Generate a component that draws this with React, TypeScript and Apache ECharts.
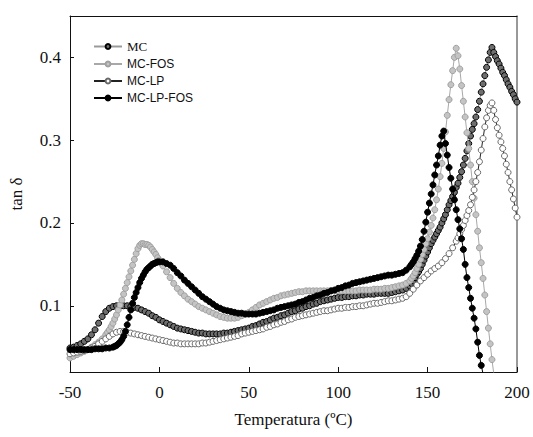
import React, { useEffect, useRef } from "react";
import * as echarts from "echarts";

// Temperature (°C) / tan δ pairs
const mcData: [number, number][] = [
  [-50,0.049],[-48,0.050],[-46,0.052],[-44,0.054],[-42,0.057],[-40,0.060],[-38,0.065],[-36,0.071],[-34,0.079],[-32,0.087],
  [-30,0.093],[-28,0.097],[-26,0.099],[-24,0.100],[-22,0.100],[-20,0.100],[-18,0.100],[-16,0.099],[-14,0.098],[-12,0.097],
  [-10,0.095],[-8,0.093],[-6,0.091],[-4,0.088],[-2,0.086],[0,0.083],[2,0.081],[4,0.079],[6,0.077],[8,0.075],
  [10,0.073],[12,0.072],[14,0.071],[16,0.070],[18,0.069],[20,0.068],[22,0.067],[24,0.067],[26,0.066],[28,0.066],
  [30,0.066],[32,0.066],[34,0.066],[36,0.067],[38,0.067],[40,0.068],[42,0.069],[44,0.070],[46,0.071],[48,0.072],
  [50,0.073],[52,0.075],[54,0.076],[56,0.078],[58,0.080],[60,0.081],[62,0.083],[64,0.085],[66,0.086],[68,0.088],
  [70,0.089],[72,0.091],[74,0.093],[76,0.094],[78,0.096],[80,0.097],[82,0.099],[84,0.100],[86,0.102],[88,0.103],
  [90,0.105],[92,0.106],[94,0.107],[96,0.108],[98,0.109],[100,0.110],[102,0.110],[104,0.111],[106,0.111],[108,0.112],
  [110,0.112],[112,0.113],[114,0.113],[116,0.114],[118,0.114],[120,0.114],[122,0.115],[124,0.115],[126,0.115],[128,0.115],
  [130,0.116],[132,0.117],[134,0.118],[136,0.119],[138,0.121],[140,0.124],[141,0.127],[142,0.130],[143,0.134],[144,0.138],
  [145,0.141],[146,0.145],[147,0.150],[148,0.155],[149,0.160],[150,0.165],[151,0.170],[152,0.175],[153,0.179],[154,0.183],
  [155,0.187],[156,0.191],[157,0.195],[158,0.200],[159,0.205],[160,0.210],[161,0.216],[162,0.222],[163,0.227],[164,0.232],
  [165,0.237],[166,0.243],[167,0.248],[168,0.255],[169,0.262],[170,0.270],[171,0.278],[172,0.287],[173,0.296],[174,0.305],
  [175,0.313],[176,0.320],[177,0.328],[178,0.337],[179,0.347],[180,0.358],[181,0.368],[182,0.378],[183,0.388],[184,0.397],
  [185,0.406],[186,0.412],[187,0.406],[188,0.401],[189,0.396],[190,0.392],[191,0.387],[192,0.382],[193,0.378],[194,0.373],
  [195,0.368],[196,0.364],[197,0.359],[198,0.355],[199,0.350],[200,0.346],
];

const mcFosData: [number, number][] = [
  [-50,0.037],[-48,0.039],[-46,0.041],[-44,0.043],[-42,0.045],[-40,0.047],[-38,0.050],[-36,0.053],[-34,0.056],[-32,0.060],
  [-30,0.065],[-29,0.068],[-28,0.071],[-27,0.075],[-26,0.079],[-25,0.084],[-24,0.089],[-23,0.095],[-22,0.101],[-21,0.107],
  [-20,0.114],[-19,0.121],[-18,0.128],[-17,0.135],[-16,0.142],[-15,0.149],[-14,0.156],[-13,0.163],[-12,0.169],[-11,0.173],
  [-10,0.175],[-9,0.175],[-8,0.174],[-7,0.174],[-6,0.173],[-5,0.171],[-4,0.168],[-3,0.165],[-2,0.162],[-1,0.158],
  [0,0.155],[2,0.148],[4,0.141],[6,0.134],[8,0.127],[10,0.121],[12,0.116],[14,0.112],[16,0.108],[18,0.105],
  [20,0.102],[22,0.099],[24,0.097],[26,0.095],[28,0.093],[30,0.091],[32,0.089],[34,0.087],[36,0.086],[38,0.085],
  [40,0.085],[42,0.085],[44,0.086],[46,0.088],[48,0.090],[50,0.092],[52,0.095],[54,0.098],[56,0.101],[58,0.103],
  [60,0.105],[62,0.107],[64,0.109],[66,0.110],[68,0.112],[70,0.113],[72,0.114],[74,0.115],[76,0.116],[78,0.117],
  [80,0.117],[82,0.118],[84,0.118],[86,0.118],[88,0.118],[90,0.118],[92,0.118],[94,0.118],[96,0.118],[98,0.118],
  [100,0.118],[102,0.118],[104,0.118],[106,0.118],[108,0.118],[110,0.118],[112,0.119],[114,0.119],[116,0.119],[118,0.119],
  [120,0.120],[122,0.120],[124,0.120],[126,0.121],[128,0.121],[130,0.122],[132,0.123],[134,0.124],[136,0.125],[138,0.127],
  [140,0.130],[141,0.133],[142,0.136],[143,0.140],[144,0.145],[145,0.150],[146,0.156],[147,0.162],[148,0.168],[149,0.175],
  [150,0.181],[151,0.189],[152,0.197],[153,0.206],[154,0.216],[155,0.228],[156,0.241],[157,0.256],[158,0.272],[159,0.290],
  [160,0.310],[161,0.330],[162,0.349],[163,0.367],[164,0.384],[165,0.400],[166,0.411],[167,0.402],[168,0.386],[169,0.366],
  [170,0.347],[171,0.328],[172,0.309],[173,0.290],[174,0.270],[175,0.250],[176,0.230],[177,0.210],[178,0.190],[179,0.170],
  [180,0.152],[181,0.133],[182,0.113],[183,0.093],[184,0.073],[185,0.054],[186,0.035],[187,0.018],
];

const mcLpData: [number, number][] = [
  [-50,0.042],[-48,0.043],[-46,0.044],[-44,0.045],[-42,0.046],[-40,0.047],[-38,0.049],[-36,0.051],[-34,0.054],[-32,0.057],
  [-30,0.060],[-28,0.063],[-26,0.066],[-24,0.068],[-22,0.069],[-20,0.069],[-18,0.068],[-16,0.067],[-14,0.066],[-12,0.065],
  [-10,0.064],[-8,0.063],[-6,0.062],[-4,0.061],[-2,0.060],[0,0.059],[2,0.058],[4,0.057],[6,0.056],[8,0.055],
  [10,0.055],[12,0.054],[14,0.054],[16,0.054],[18,0.054],[20,0.054],[22,0.054],[24,0.055],[26,0.055],[28,0.056],
  [30,0.057],[32,0.058],[34,0.059],[36,0.060],[38,0.061],[40,0.062],[42,0.063],[44,0.064],[46,0.066],[48,0.067],
  [50,0.068],[52,0.069],[54,0.070],[56,0.071],[58,0.072],[60,0.074],[62,0.075],[64,0.077],[66,0.078],[68,0.080],
  [70,0.081],[72,0.083],[74,0.084],[76,0.086],[78,0.087],[80,0.088],[82,0.089],[84,0.090],[86,0.091],[88,0.092],
  [90,0.093],[92,0.094],[94,0.094],[96,0.095],[98,0.096],[100,0.097],[102,0.097],[104,0.098],[106,0.098],[108,0.099],
  [110,0.099],[112,0.100],[114,0.100],[116,0.101],[118,0.102],[120,0.103],[122,0.103],[124,0.104],[126,0.105],[128,0.106],
  [130,0.106],[132,0.107],[134,0.108],[136,0.109],[138,0.111],[140,0.115],[142,0.120],[144,0.125],[146,0.130],[148,0.134],
  [150,0.138],[152,0.142],[154,0.145],[156,0.148],[158,0.152],[160,0.157],[162,0.163],[164,0.170],[166,0.178],[167,0.182],
  [168,0.187],[169,0.192],[170,0.197],[171,0.203],[172,0.209],[173,0.215],[174,0.222],[175,0.231],[176,0.240],[177,0.250],
  [178,0.261],[179,0.274],[180,0.288],[181,0.302],[182,0.316],[183,0.327],[184,0.336],[185,0.342],[186,0.345],[187,0.336],
  [188,0.325],[189,0.315],[190,0.306],[191,0.298],[192,0.290],[193,0.281],[194,0.271],[195,0.261],[196,0.250],[197,0.240],
  [198,0.229],[199,0.218],[200,0.207],
];

const mcLpFosData: [number, number][] = [
  [-50,0.047],[-48,0.047],[-46,0.047],[-44,0.047],[-42,0.047],[-40,0.047],[-38,0.047],[-36,0.048],[-34,0.048],[-32,0.048],
  [-30,0.049],[-28,0.049],[-26,0.050],[-25,0.051],[-24,0.052],[-23,0.054],[-22,0.056],[-21,0.059],[-20,0.063],[-19,0.069],
  [-18,0.077],[-17,0.086],[-16,0.095],[-15,0.103],[-14,0.110],[-13,0.116],[-12,0.122],[-11,0.128],[-10,0.133],[-9,0.137],
  [-8,0.141],[-7,0.144],[-6,0.146],[-5,0.148],[-4,0.150],[-3,0.151],[-2,0.152],[-1,0.153],[0,0.153],[2,0.153],
  [4,0.151],[6,0.149],[8,0.145],[10,0.140],[12,0.136],[14,0.131],[16,0.127],[18,0.123],[20,0.119],[22,0.115],
  [24,0.111],[26,0.108],[28,0.105],[30,0.102],[32,0.099],[34,0.097],[36,0.095],[38,0.094],[40,0.093],[42,0.092],
  [44,0.091],[46,0.091],[48,0.090],[50,0.090],[52,0.090],[54,0.090],[56,0.091],[58,0.092],[60,0.093],[62,0.094],
  [64,0.095],[66,0.097],[68,0.098],[70,0.099],[72,0.100],[74,0.101],[76,0.102],[78,0.104],[80,0.105],[82,0.107],
  [84,0.109],[86,0.110],[88,0.112],[90,0.113],[92,0.115],[94,0.116],[96,0.118],[98,0.119],[100,0.121],[102,0.122],
  [104,0.124],[106,0.125],[108,0.127],[110,0.128],[112,0.129],[114,0.130],[116,0.131],[118,0.132],[120,0.133],[122,0.134],
  [124,0.135],[126,0.136],[128,0.137],[130,0.137],[132,0.138],[134,0.139],[136,0.140],[138,0.143],[140,0.147],[141,0.150],
  [142,0.153],[143,0.157],[144,0.161],[145,0.166],[146,0.172],[147,0.180],[148,0.190],[149,0.201],[150,0.213],[151,0.224],
  [152,0.235],[153,0.246],[154,0.258],[155,0.270],[156,0.281],[157,0.294],[158,0.305],[159,0.311],[160,0.296],[161,0.282],
  [162,0.267],[163,0.254],[164,0.241],[165,0.228],[166,0.216],[167,0.204],[168,0.193],[169,0.181],[170,0.168],[171,0.150],
  [172,0.134],[173,0.122],[174,0.109],[175,0.097],[176,0.085],[177,0.072],[178,0.056],[179,0.040],[180,0.028],[181,0.018],
];

const seriesNames = ["MC", "MC-FOS", "MC-LP", "MC-LP-FOS"];
const yTicks = [0.1, 0.2, 0.3, 0.4];

const SERIF = "'Liberation Serif', 'Times New Roman', serif";
const SANS = "'Liberation Sans', Arial, sans-serif";

export default function App() {
  const ref = useRef<HTMLDivElement>(null);

  useEffect(() => {
    if (!ref.current) return;
    const chart = echarts.init(ref.current, undefined, { renderer: "svg" });

    const styles = [
      { line: "#9a9a9a", fill: "#6e6e6e", border: "#000000" },
      { line: "#a8a8a8", fill: "#c4c4c4", border: "#a0a0a0" },
      { line: "#222222", fill: "#ffffff", border: "#6a6a6a" },
      { line: "#000000", fill: "#000000", border: "#000000" },
    ];
    const datasets = [mcData, mcFosData, mcLpData, mcLpFosData];

    chart.setOption({
      animation: false,
      backgroundColor: "#ffffff",
      grid: { left: 69, right: 16, top: 16, bottom: 65, containLabel: false },
      legend: {
        orient: "vertical",
        left: 88,
        top: 35,
        padding: 5,
        itemWidth: 28,
        itemHeight: 6,
        itemGap: 5,
        data: seriesNames,
        formatter: (name: string) => (name === "MC" ? `{s|${name}}` : `{a|${name}}`),
        textStyle: {
          color: "#111",
          fontFamily: SANS,
          fontSize: 12,
          rich: {
            s: { fontFamily: SERIF, fontSize: 13, color: "#111" },
            a: { fontFamily: SANS, fontSize: 12, color: "#111" },
          },
        },
      },
      xAxis: [
        {
          type: "value",
          min: -50,
          max: 200,
          interval: 50,
          name: "Temperatura (ºC)",
          nameLocation: "middle",
          nameGap: 39,
          nameTextStyle: { fontFamily: SERIF, fontSize: 17, color: "#111" },
          axisLine: { onZero: false, lineStyle: { color: "#111", width: 1 } },
          axisTick: { inside: true, length: 5, lineStyle: { color: "#111" } },
          axisLabel: { fontFamily: SERIF, fontSize: 17, color: "#111", margin: 12 },
          splitLine: { show: false },
        },
        {
          type: "value",
          position: "top",
          min: -50,
          max: 200,
          axisLine: { show: true, onZero: false, lineStyle: { color: "#111", width: 1 } },
          axisTick: { show: false },
          axisLabel: { show: false },
          splitLine: { show: false },
        },
      ],
      yAxis: [
        {
          type: "value",
          position: "left",
          min: 0.02,
          max: 0.45,
          name: "tan δ",
          nameLocation: "middle",
          nameGap: 45,
          nameRotate: 90,
          nameTextStyle: { fontFamily: SERIF, fontSize: 17, color: "#111" },
          axisLine: { show: true, onZero: false, lineStyle: { color: "#111", width: 1 } },
          axisTick: { inside: true, length: 4, customValues: yTicks, lineStyle: { color: "#111" } },
          axisLabel: {
            customValues: yTicks,
            fontFamily: SERIF,
            fontSize: 17,
            color: "#111",
            margin: 9,
            formatter: (v: number) => v.toFixed(1),
          },
          splitLine: { show: false },
        },
        {
          type: "value",
          position: "right",
          min: 0.02,
          max: 0.45,
          axisLine: { show: true, onZero: false, lineStyle: { color: "#777", width: 1.5 } },
          axisTick: { show: false },
          axisLabel: { show: false },
          splitLine: { show: false },
        },
      ],
      series: seriesNames.map((name, i) => ({
        name,
        type: "line",
        xAxisIndex: 0,
        yAxisIndex: 0,
        data: datasets[i],
        symbol: "circle",
        symbolSize: 6,
        showSymbol: true,
        clip: true,
        lineStyle: { color: styles[i].line, width: 1 },
        itemStyle: { color: styles[i].fill, borderColor: styles[i].border, borderWidth: 1 },
        z: 2 + i,
      })),
    });

    return () => chart.dispose();
  }, []);

  return (
    <div
      ref={ref}
      style={{ position: "fixed", left: 0, top: 0, width: 533, height: 437, background: "#fff" }}
    />
  );
}
